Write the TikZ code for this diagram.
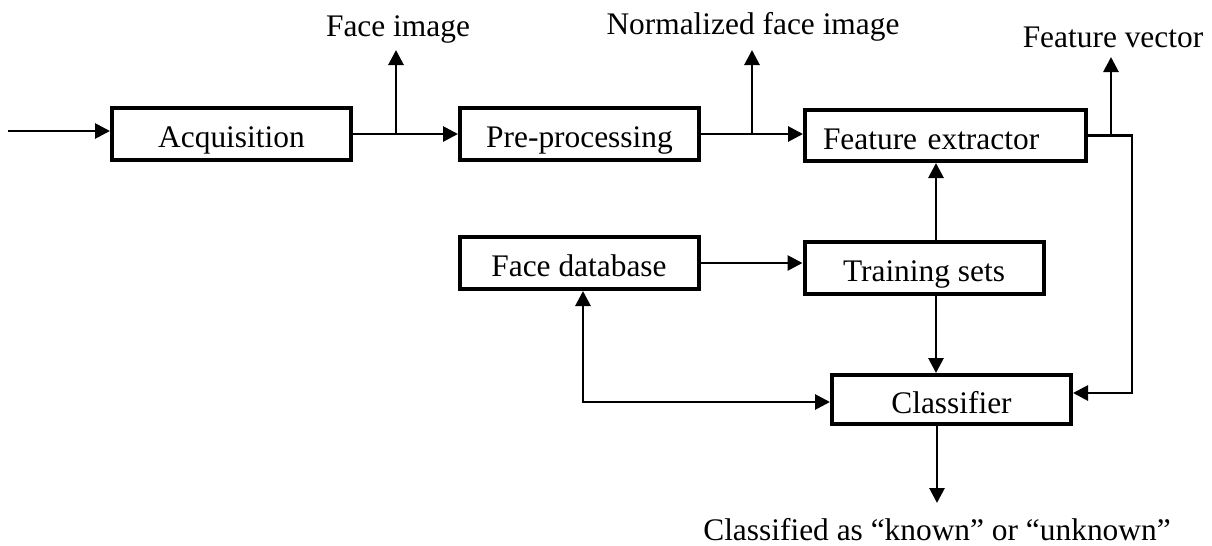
\documentclass[tikz,border=0pt]{standalone}
\usepackage{fontspec}
\setmainfont{Liberation Serif}
\usetikzlibrary{arrows.meta,positioning,calc}

\begin{document}
\begin{tikzpicture}[x=0.5pt,y=-0.5pt,
  block/.style={draw,line width=2pt,minimum width=119.5pt,minimum height=26pt,inner sep=0pt,
    text height=13.5pt,text depth=0pt,font=\fontsize{15.7}{18}\selectfont},
  lbl/.style={inner sep=0pt,font=\fontsize{15.7}{18}\selectfont},
  flow/.style={line width=1.4pt,-{Triangle[length=7.5pt,width=7.5pt]}},
  flowboth/.style={line width=1.4pt,{Triangle[length=7.5pt,width=7.5pt]}-{Triangle[length=7.5pt,width=7.5pt]}}]
\useasboundingbox (0,0) rectangle (1212,546);
\node[block] (acq) at (231.5,134) {Acquisition};
\node[block] (pre) at (579.5,134) {Pre-processing};
\node[block,minimum width=140.5pt,minimum height=25.5pt,inner xsep=9pt,text width=122.5pt,align=left] (fe) at (945.5,135.5) {Feature extractor};
\node[block] (fdb) at (579,263) {Face database};
\node[block] (ts) at (924,268) {Training sets};
\node[block,minimum height=24.5pt] (cls) at (951.5,399.5) {Classifier};
\coordinate (in) at (8,131);
\coordinate (fitip) at (396,50);
\coordinate (nftip) at (752,50);
\coordinate (fvtip) at (1111,57);
\coordinate (outtip) at (937,503);
\coordinate (tap) at (936,0);
\coordinate (fvx) at (1132,0);
\coordinate (loop) at (583,0);
\coordinate (clsin) at ([yshift=3.25pt]cls.east);
\coordinate (clsloop) at ([yshift=-1.25pt]cls.west);
\node[lbl,anchor=base] (filbl) at (398,36) {Face image};
\node[lbl,anchor=base] (nflbl) at (753,34) {Normalized face image};
\node[lbl,anchor=base] (fvlbl) at (1113,47) {Feature vector};
\node[lbl,anchor=base] (outlbl) at (937,540) {Classified as “known” or “unknown”};
% main chain
\draw[flow] (in) -- (in -| acq.west);
\draw[flow] (acq) -- (pre);
\draw[flow] (acq.east -| fitip) -- (fitip);
\draw[flow] (pre.east) -- (pre.east -| fe.west);
\draw[flow] (pre.east -| nftip) -- (nftip);
\draw[flow] (fe.east) -- (fe.east -| fvx) -- (fvx |- clsin) -- (clsin);
\draw[flow] (fe.east -| fvtip) -- (fvtip);
% training branch
\draw[flow] (fdb) -- (fdb.east -| ts.west);
\draw[flow] (ts.north -| tap) -- (fe.south -| tap);
\draw[flow] (ts.south -| tap) -- (cls.north -| tap);
\draw[flowboth] (loop |- fdb.south) -- (loop |- clsloop) -- (clsloop);
\draw[flow] (cls.south -| outtip) -- (outtip);
\end{tikzpicture}
\end{document}
